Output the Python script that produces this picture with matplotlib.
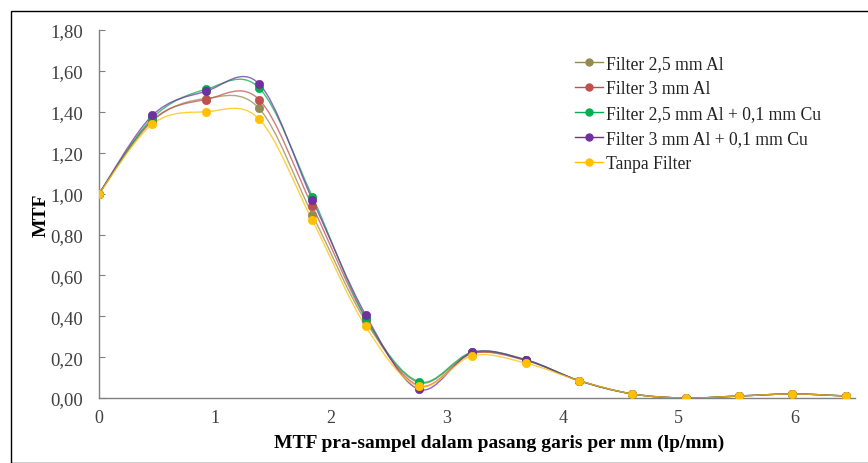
'''plot.py

MTF curves for different beam filters (Excel-style smoothed lines).
'''

import matplotlib
matplotlib.use("Agg")
import matplotlib.pyplot as plt
from matplotlib.path import Path
from matplotlib.patches import PathPatch, Rectangle
from matplotlib.lines import Line2D
from matplotlib.ticker import FuncFormatter

# Data
freq = [0, 0.46, 0.92, 1.38, 1.84, 2.30, 2.76, 3.22, 3.68, 4.14, 4.60, 5.06, 5.52, 5.98, 6.44]

mtf_25al = [1.00, 1.355, 1.465, 1.417, 0.897, 0.375, 0.075, 0.220, 0.185, 0.085, 0.020, 0.000, 0.010, 0.020, 0.010]
mtf_3al = [1.00, 1.360, 1.460, 1.460, 0.938, 0.388, 0.060, 0.218, 0.184, 0.085, 0.020, 0.000, 0.010, 0.020, 0.010]
mtf_25al_cu = [1.00, 1.370, 1.510, 1.517, 0.985, 0.392, 0.080, 0.225, 0.188, 0.085, 0.020, 0.000, 0.010, 0.020, 0.010]
mtf_3al_cu = [1.00, 1.383, 1.500, 1.537, 0.970, 0.406, 0.042, 0.223, 0.187, 0.085, 0.020, 0.000, 0.010, 0.020, 0.010]
mtf_none = [1.00, 1.340, 1.400, 1.365, 0.869, 0.350, 0.057, 0.207, 0.171, 0.085, 0.020, 0.000, 0.010, 0.020, 0.010]

series_names = [
    "Filter 2,5 mm Al",
    "Filter 3 mm Al",
    "Filter 2,5 mm Al + 0,1 mm Cu",
    "Filter 3 mm Al + 0,1 mm Cu",
    "Tanpa Filter",
]
series_values = [mtf_25al, mtf_3al, mtf_25al_cu, mtf_3al_cu, mtf_none]
series_colors = ["#948A54", "#C0504D", "#00B050", "#7030A0", "#FFC000"]

plt.rcParams["font.family"] = ["Liberation Serif", "DejaVu Serif"]


def smooth_path(xs, ys):
    """Bezier path through the points, like Excel's smoothed line."""
    n = len(xs)
    verts = [(xs[0], ys[0])]
    codes = [Path.MOVETO]
    for i in range(n - 1):
        x0, y0 = xs[max(i - 1, 0)], ys[max(i - 1, 0)]
        x1, y1 = xs[i], ys[i]
        x2, y2 = xs[i + 1], ys[i + 1]
        x3, y3 = xs[min(i + 2, n - 1)], ys[min(i + 2, n - 1)]
        c1 = (x1 + (x2 - x0) / 6, y1 + (y2 - y0) / 6)
        c2 = (x2 - (x3 - x1) / 6, y2 - (y3 - y1) / 6)
        verts += [c1, c2, (x2, y2)]
        codes += [Path.CURVE4] * 3
    return Path(verts, codes)


fig = plt.figure(figsize=(8.68, 4.64), dpi=100)
ax = fig.add_axes([0.1141, 0.140, 0.871, 0.793])

for name, vals, col in zip(series_names, series_values, series_colors):
    ax.add_patch(PathPatch(smooth_path(freq, vals), facecolor="none",
                           edgecolor=col, lw=1.0, alpha=0.75, zorder=2))
    ax.plot(freq, vals, linestyle="none", marker="o", ms=6, color=col,
            markeredgecolor=col, markeredgewidth=0.5, zorder=3)

ax.set_xlim(0, 6.52)
ax.set_ylim(0, 1.8)
ax.set_xticks(range(7))
ax.set_yticks([i * 0.2 for i in range(10)])
ax.yaxis.set_major_formatter(FuncFormatter(lambda v, p: f"{v:.2f}".replace(".", ",")))
ax.tick_params(axis="x", length=0, pad=8, labelsize=13, colors="#404040")
ax.tick_params(axis="y", direction="in", length=4, width=0.8, color="#808080",
               pad=11.5, labelsize=13.5, labelcolor="#404040")

for side in ["top", "right"]:
    ax.spines[side].set_visible(False)
for side in ["left", "bottom"]:
    ax.spines[side].set_color("#808080")
    ax.spines[side].set_linewidth(1.0)

ax.set_xlabel("MTF pra-sampel dalam pasang garis per mm (lp/mm)",
              fontsize=14, fontweight="bold")
ax.set_ylabel("MTF", fontsize=14, fontweight="bold")
ax.xaxis.set_label_coords(0.529, -0.098)
ax.yaxis.set_label_coords(-0.066, 0.5)

handles = [Line2D([], [], color=c, lw=1.0, marker="o", ms=5, alpha=1)
           for c in series_colors]
ax.legend(handles, series_names, loc="upper left", bbox_to_anchor=(0.608, 0.975),
          frameon=False, fontsize=12.7, handlelength=1.6, handletextpad=0.2,
          labelspacing=0.45, labelcolor="#222222")

# border around the whole picture
fig.add_artist(Rectangle((11 / 868, 0), 2, 1 - 12 / 464, transform=fig.transFigure,
                         fill=False, edgecolor="black", lw=1.0))

fig.savefig("out.png", dpi=100)
